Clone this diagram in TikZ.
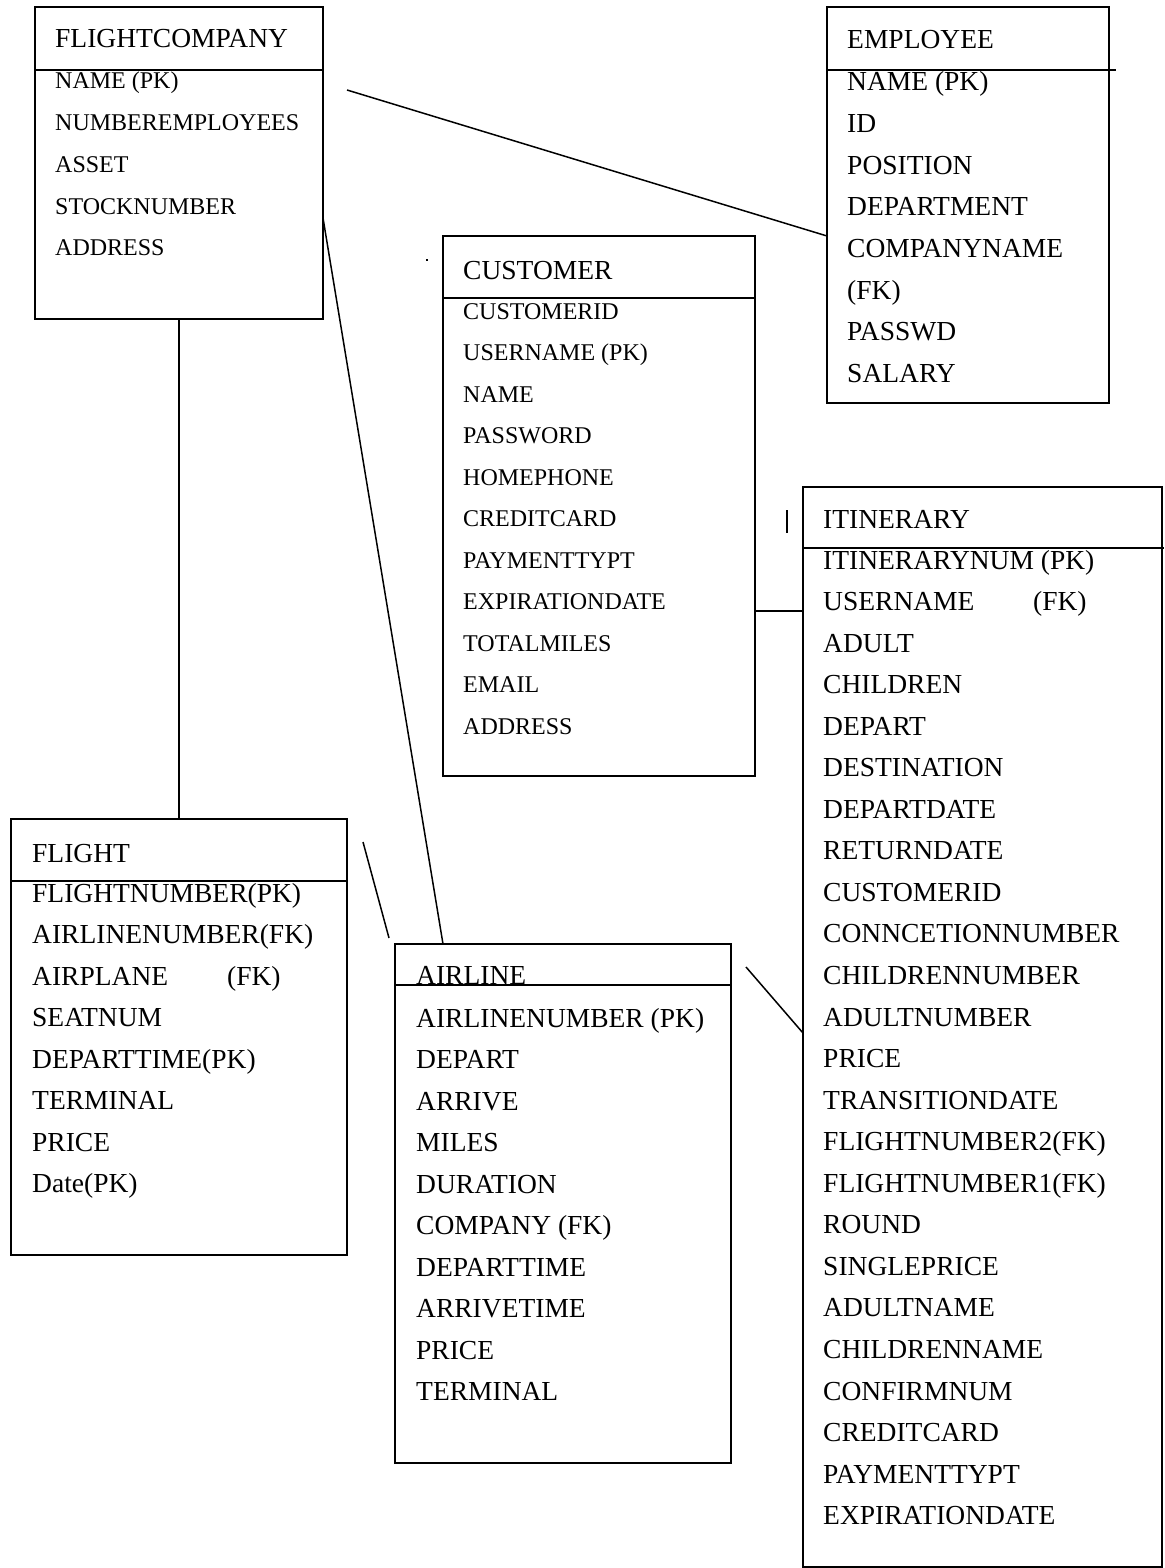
\documentclass[tikz,border=0pt]{standalone}
\usepackage{fontspec}
\setmainfont{Liberation Serif}
\newcommand\bigf{\fontsize{27.5}{30}\selectfont}
\newcommand\smallf{\fontsize{24}{26}\selectfont}
\begin{document}
\begin{tikzpicture}[x=1pt,y=-1pt,
  tbl/.style={draw, line width=1.8pt, anchor=north west, inner sep=0pt, outer sep=0pt},
  divl/.style={line width=1.4pt},
  conn/.style={line width=1.5pt},
  bigtxt/.style={anchor=base west, inner sep=0pt, font=\bigf},
  smalltxt/.style={anchor=base west, inner sep=0pt, font=\smallf}]
\useasboundingbox (0,0) rectangle (1164,1568);

% FLIGHTCOMPANY
\node[tbl, minimum width=288pt, minimum height=312pt] (fc) at (35,7) {};
\draw[divl] (35,70) -- (323,70);
\node[bigtxt] (fct) at (55,48) {FLIGHTCOMPANY};
\foreach \s [count=\i from 0] in {NAME (PK),NUMBEREMPLOYEES,ASSET,STOCKNUMBER,ADDRESS}
  \node[smalltxt] (fc\i) at (55,{89+41.7*\i}) {\s};

% EMPLOYEE
\node[tbl, minimum width=282pt, minimum height=396pt] (emp) at (827,7) {};
\draw[divl] (827,70) -- (1116,70);
\node[bigtxt] (empt) at (847,49) {EMPLOYEE};
\foreach \s [count=\i from 0] in {NAME (PK),ID,POSITION,DEPARTMENT,COMPANYNAME,(FK),PASSWD,SALARY}
  \node[bigtxt] (emp\i) at (847,{91+41.6*\i}) {\s};

% CUSTOMER
\node[tbl, minimum width=312pt, minimum height=540pt] (cus) at (443,236) {};
\draw[divl] (443,298) -- (755,298);
\node[bigtxt] (cust) at (463,279) {CUSTOMER};
\foreach \s [count=\i from 0] in {CUSTOMERID,USERNAME (PK),NAME,PASSWORD,HOMEPHONE,CREDITCARD,PAYMENTTYPT,EXPIRATIONDATE,TOTALMILES,EMAIL,ADDRESS}
  \node[smalltxt] (cus\i) at (463,{319+41.5*\i}) {\s};

% ITINERARY
\node[tbl, minimum width=359pt, minimum height=1080pt] (iti) at (803,487) {};
\draw[divl] (803,548) -- (1164,548);
\node[bigtxt] (itit) at (823,528) {ITINERARY};
\foreach \s [count=\i from 0] in {ITINERARYNUM (PK),{\makebox[210pt][l]{USERNAME}(FK)},ADULT,CHILDREN,DEPART,DESTINATION,DEPARTDATE,RETURNDATE,CUSTOMERID,CONNCETIONNUMBER,CHILDRENNUMBER,ADULTNUMBER,PRICE,TRANSITIONDATE,FLIGHTNUMBER2(FK),FLIGHTNUMBER1(FK),ROUND,SINGLEPRICE,ADULTNAME,CHILDRENNAME,CONFIRMNUM,CREDITCARD,PAYMENTTYPT,EXPIRATIONDATE}
  \node[bigtxt] (iti\i) at (823,{569+41.55*\i}) {\s};

% FLIGHT
\node[tbl, minimum width=336pt, minimum height=436pt] (fl) at (11,819) {};
\draw[divl] (11,881) -- (347,881);
\node[bigtxt] (flt) at (32,862) {FLIGHT};
\foreach \s [count=\i from 0] in {FLIGHTNUMBER(PK),AIRLINENUMBER(FK),{\makebox[195pt][l]{AIRPLANE}(FK)},SEATNUM,DEPARTTIME(PK),TERMINAL,PRICE,Date(PK)}
  \node[bigtxt] (fl\i) at (32,{902+41.55*\i}) {\s};

% AIRLINE
\node[tbl, minimum width=336pt, minimum height=519pt] (air) at (395,944) {};
\draw[divl] (395,985) -- (731,985);
\node[bigtxt] (airt) at (416,984) {AIRLINE};
\foreach \s [count=\i from 0] in {AIRLINENUMBER (PK),DEPART,ARRIVE,MILES,DURATION,COMPANY (FK),DEPARTTIME,ARRIVETIME,PRICE,TERMINAL}
  \node[bigtxt] (air\i) at (416,{1027+41.5*\i}) {\s};

% connector end points
\coordinate (fcFree) at (347,90);
\coordinate (empW) at (827,236);
\coordinate (fcE) at (323,218);
\coordinate (airN) at (443,944);
\coordinate (fcS) at (179,319);
\coordinate (flN) at (179,819);
\coordinate (flA) at (363,842);
\coordinate (flB) at (389,938);
\coordinate (airFree) at (746,967);
\coordinate (itiW) at (803,1033);
\coordinate (cusE) at (755,611);
\coordinate (itiW2) at (803,611);
\coordinate (barA) at (787,510);
\coordinate (barB) at (787,533);

\draw[conn] (fcFree) -- (empW);
\draw[conn] (fcE) -- (airN);
\draw[conn] (fcS) -- (flN);
\draw[conn] (flA) -- (flB);
\draw[conn] (airFree) -- (itiW);
\draw[conn] (cusE) -- (itiW2);
\draw[conn] (barA) -- (barB);
\fill (426,259) rectangle (428,261);
\end{tikzpicture}
\end{document}
